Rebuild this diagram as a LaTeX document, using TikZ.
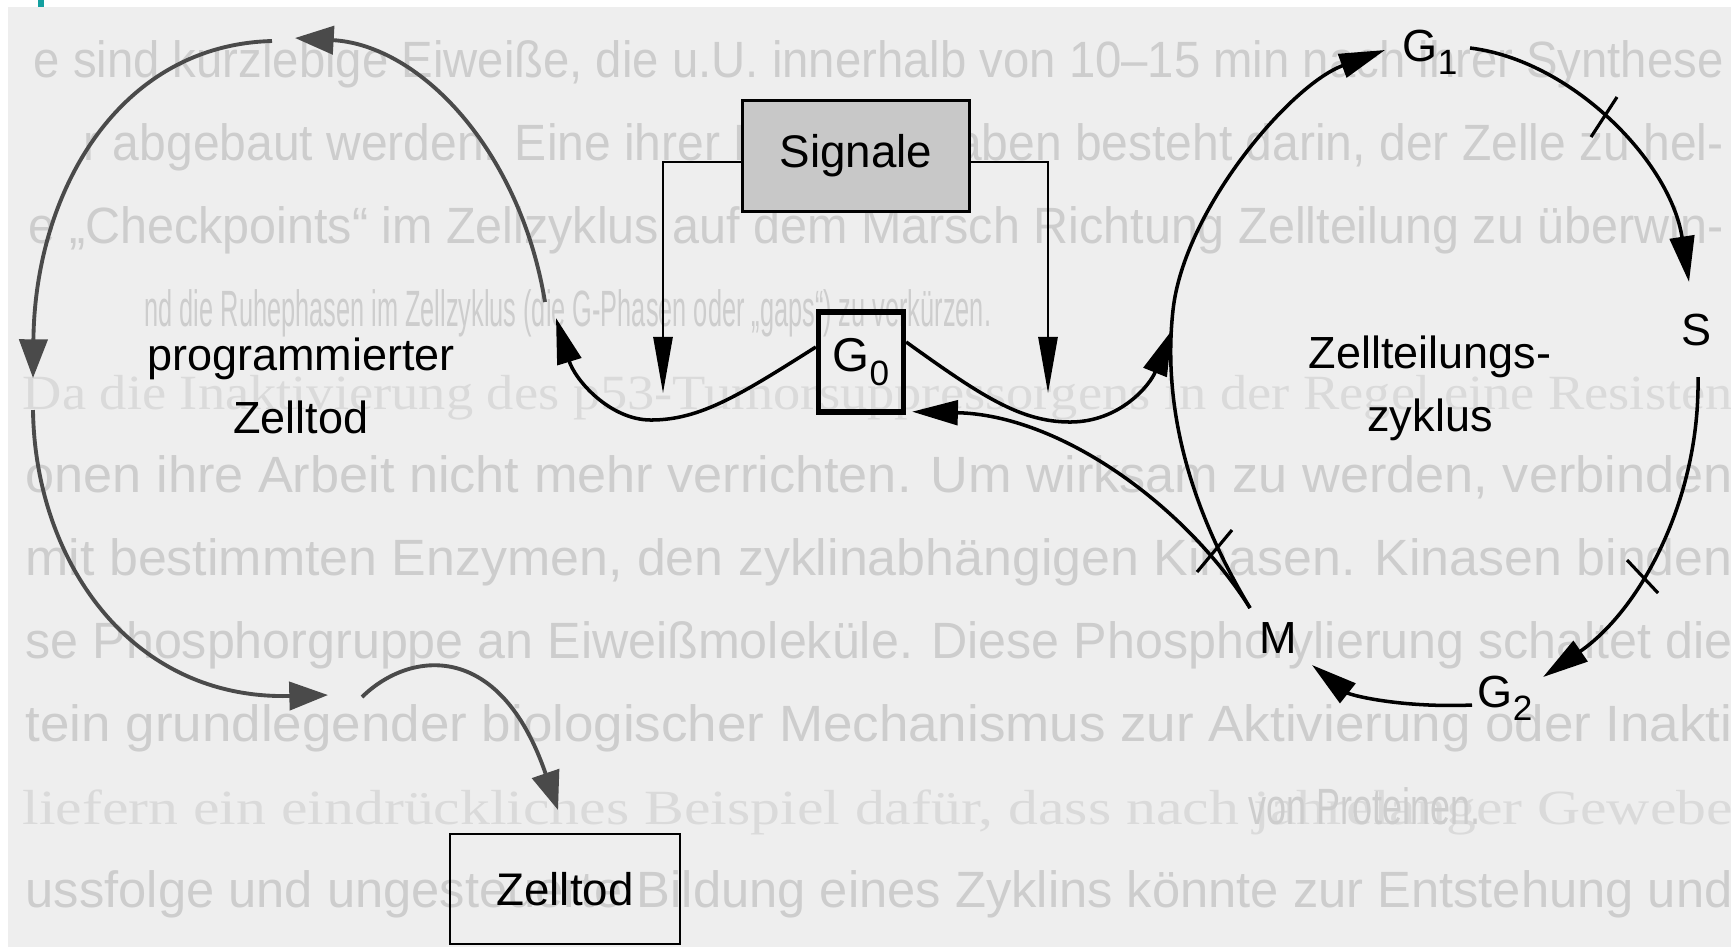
\documentclass[tikz,border=0pt]{standalone}
\usepackage{fontspec}
\setmainfont{Liberation Sans}
\newfontfamily\bgserif{Liberation Serif}
\usepackage{graphicx}
\usetikzlibrary{arrows.meta,calc}
\definecolor{pagebg}{HTML}{EEEEEE}
\definecolor{bleed}{HTML}{CDCDCD}
\definecolor{bleedlight}{HTML}{DADADA}
\definecolor{cycgray}{HTML}{4A4A4A}
\definecolor{sigfill}{HTML}{C8C8C8}
\definecolor{tealmark}{HTML}{14A0A0}
\newcommand{\phsub}[1]{\raisebox{-0.28em}{\fontsize{10pt}{10pt}\selectfont #1}}
\begin{document}
\begin{tikzpicture}[x=0.01cm,y=-0.01cm,
  every node/.style={inner sep=0pt},
  lbl/.style={font=\fontsize{12.8pt}{18pt}\selectfont, align=center},
  sigbox/.style={draw=black, line width=0.8pt, fill=sigfill, minimum width=2.27cm, minimum height=1.11cm, font=\fontsize{13pt}{15pt}\selectfont},
  gzbox/.style={draw=black, line width=1.5pt, minimum width=0.85cm, minimum height=1.0cm, font=\fontsize{13.5pt}{15pt}\selectfont},
  ztbox/.style={draw=black, line width=0.7pt, minimum width=2.3cm, minimum height=1.1cm, font=\fontsize{13pt}{15pt}\selectfont},
  bleedsans/.style={anchor=base west, text=bleed, font=\fontsize{14.5pt}{16pt}\selectfont},
  bleedserif/.style={anchor=base west, text=bleedlight, font=\bgserif\fontsize{14pt}{16pt}\selectfont},
  blkarrow/.style={draw=black, line width=1pt, -{Triangle[length=13pt,width=7pt]}},
  thinarrow/.style={draw=black, line width=0.55pt, -{Triangle[length=16pt,width=5.5pt]}},
  grayarrow/.style={draw=cycgray, line width=1.1pt, -{Triangle[length=11pt,width=8pt]}},
  tickmark/.style={draw=black, line width=0.9pt}
]
% page
\fill[white] (0,0) rectangle (1731,947);
\fill[pagebg] (8,7) rectangle (1731,947);
\fill[tealmark] (38,0) rectangle (44,7);
\useasboundingbox (0,0) rectangle (1731,947);

% show-through text of the scanned page
\node[bleedsans] (b1) at (33,77) {\resizebox{16.89cm}{\height}{e sind kurzlebige Eiweiße, die u.U. innerhalb von 10--15 min nach ihrer Synthese}};
\node[bleedsans] (b2) at (83,160) {\resizebox{16.39cm}{\height}{r abgebaut werden. Eine ihrer Hauptaufgaben besteht darin, der Zelle zu hel-}};
\node[bleedsans] (b3) at (28,243) {\resizebox{16.94cm}{\height}{e „Checkpoints“ im Zellzyklus auf dem Marsch Richtung Zellteilung zu überwin-}};
\node[bleedsans] (b4) at (144,326) {\resizebox{8.46cm}{\height}{nd die Ruhephasen im Zellzyklus (die G-Phasen oder „gaps“) zu verkürzen.}};
\node[bleedserif] (b5) at (22,409) {\resizebox{17.09cm}{\height}{Da die Inaktivierung des p53-Tumorsuppressorgens in der Regel eine Resisten}};
\node[bleedsans] (b6) at (25,492) {\resizebox{17.06cm}{\height}{onen ihre Arbeit nicht mehr verrichten. Um wirksam zu werden, verbinden}};
\node[bleedsans] (b7) at (25,575) {\resizebox{17.06cm}{\height}{mit bestimmten Enzymen, den zyklinabhängigen Kinasen. Kinasen binden}};
\node[bleedsans] (b8) at (25,658) {\resizebox{17.06cm}{\height}{se Phosphorgruppe an Eiweißmoleküle. Diese Phosphorylierung schaltet die}};
\node[bleedsans] (b9) at (25,741) {\resizebox{17.06cm}{\height}{tein grundlegender biologischer Mechanismus zur Aktivierung oder Inakti}};
\node[bleedserif] (b10) at (22,824) {\resizebox{17.09cm}{\height}{liefern ein eindrückliches Beispiel dafür, dass nach jahrelanger Gewebe}};
\node[bleedsans] (b11) at (1248,824) {\resizebox{2.32cm}{\height}{von Proteinen.}};
\node[bleedsans] (b12) at (25,907) {\resizebox{17.06cm}{\height}{ussfolge und ungesteuerte Bildung eines Zyklins könnte zur Entstehung und}};

% nodes
\node[sigbox] (sig) at (856,156) {Signale};
\node[gzbox] (g0) at (861,362) {G\phsub{0}};
\node[ztbox] (zt) at (565,889) {Zelltod};
\node[lbl] (prog) at (301,386) {programmierter\\Zelltod};
\node[lbl] (zyk) at (1430,388) {Zellteilungs-\\zyklus};
\node[lbl] (g1) at (1430,52) {G\phsub{1}};
\node[lbl] (s) at (1696,330) {S};
\node[lbl] (m) at (1278,638) {M};
\node[lbl] (g2) at (1505,698) {G\phsub{2}};

% free ends
\coordinate (lc1s) at (272,41);
\coordinate (lc1e) at (33,378);
\coordinate (lc2s) at (545,302);
\coordinate (lc2e) at (295,38);
\coordinate (lc3s) at (33,410);
\coordinate (lc3e) at (328,695);
\coordinate (lc4s) at (362,697);
\coordinate (lc4e) at (558,810);
\coordinate (sl) at (663,393);
\coordinate (sr) at (1048,393);
\coordinate (gl) at (556,318);
\coordinate (gr) at (1172,330);
\coordinate (mend) at (1250,608);
\coordinate (g1in) at (1385,50);
\coordinate (g1out) at (1470,48);
\coordinate (sin) at (1689,282);
\coordinate (sout) at (1698,377);
\coordinate (g2in) at (1543,677);
\coordinate (g2out) at (1472,705);
\coordinate (min) at (1312,665);

% programmed cell death cycle (grey)
\draw[grayarrow] (lc1s) .. controls (120,45) and (35,190) .. (lc1e);
\draw[grayarrow] (lc2s) .. controls (520,150) and (420,45) .. (lc2e);
\draw[grayarrow] (lc3s) .. controls (35,560) and (130,700) .. (lc3e);
\draw[grayarrow] (lc4s) .. controls (410,650) and (500,640) .. (lc4e);

% signals
\draw[thinarrow] ($(sig.west)+(0,6)$) -| (sl);
\draw[thinarrow] ($(sig.east)+(0,6)$) -| (sr);

% G0 connections
\draw[blkarrow] ($(g0.west)+(0,-15)$) .. controls (740,395) and (700,420) .. (651,420) .. controls (610,420) and (575,380) .. (gl);
\draw[blkarrow] ($(g0.east)+(0,-20)$) .. controls (980,395) and (1020,422) .. (1070,422) .. controls (1120,422) and (1150,385) .. (gr);
\draw[blkarrow] (mend) .. controls (1185,505) and (1060,415) .. ($(g0.south east)+(6,-3)$);

% cell division cycle
\draw[blkarrow] (mend) .. controls (1185,500) and (1163,400) .. (1173,310) .. controls (1184,210) and (1290,85) .. (g1in);
\draw[blkarrow] (g1out) .. controls (1570,60) and (1670,160) .. (sin);
\draw[blkarrow] (sout) .. controls (1700,500) and (1640,610) .. (g2in);
\draw[blkarrow] (g2out) .. controls (1400,708) and (1350,695) .. (min);

% checkpoints
\draw[tickmark] (1197,572) -- (1232,530);
\draw[tickmark] (1591,137) -- (1617,97);
\draw[tickmark] (1627,560) -- (1658,593);
\end{tikzpicture}
\end{document}
